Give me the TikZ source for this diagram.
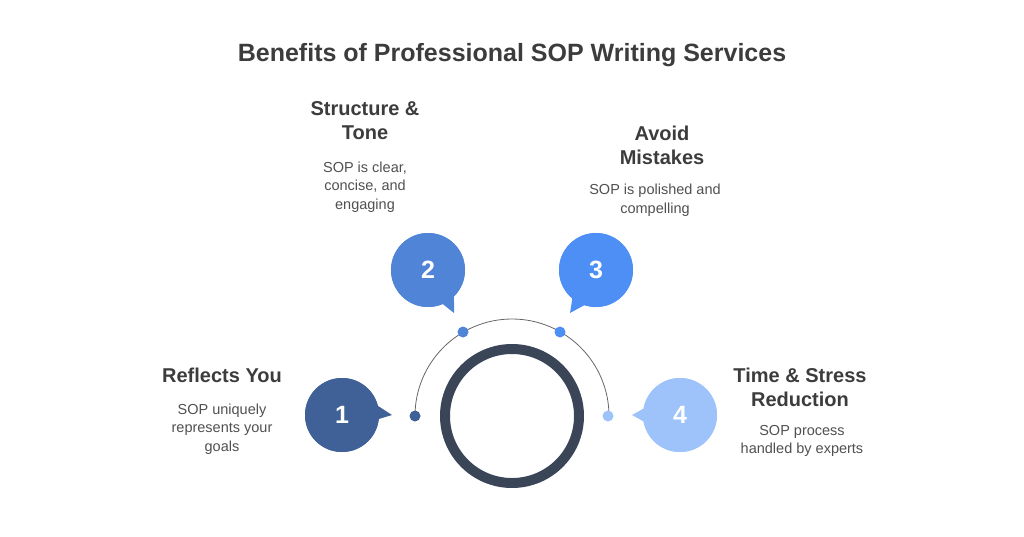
\documentclass[tikz,border=0pt]{standalone}
\usepackage{fontspec}
\setmainfont{Liberation Sans}
\usetikzlibrary{calc}
\definecolor{cone}{HTML}{3F6197}
\definecolor{ctwo}{HTML}{4F84D6}
\definecolor{cthree}{HTML}{4D8FF5}
\definecolor{cfour}{HTML}{9EC3FB}
\definecolor{cring}{HTML}{3A4558}
\definecolor{ctext}{HTML}{3C3C3C}
\newcommand\bubbletail[4]{%
  \fill[#4] ($(#1)+(#2-32:30)$) -- (#3) -- ($(#1)+(#2+12:30)$) -- cycle;}

\begin{document}
\begin{tikzpicture}[x=1pt,y=-1pt,
  bubble/.style = {circle, minimum size=74pt, inner sep=0pt,
     text=white, font=\fontsize{25}{25}\selectfont\bfseries},
  dotnode/.style = {circle, minimum size=11pt, inner sep=0pt},
  heading/.style = {align=center, text=ctext,
     font=\fontsize{20}{24}\selectfont\bfseries},
  body/.style = {align=center, text=ctext!90,
     font=\fontsize{14.5}{18.5}\selectfont}]

\useasboundingbox (0,0) rectangle (1024,536);
\node[text=ctext, font=\fontsize{25}{28}\selectfont\bfseries] (title) at (512,55)
  {Benefits of Professional SOP Writing Services};

% ring and arc
\node[circle, draw=cring, line width=10pt, minimum size=134pt, inner sep=0pt] (ring) at (512,416) {};
\draw[gray!80!black, line width=0.8pt] (415,416) arc[start angle=180, end angle=360, radius=97];

% dots on the arc
\node[dotnode, fill=cone] (d1) at (415,416) {};
\node[dotnode, fill=ctwo] (d2) at (463,332) {};
\node[dotnode, fill=cthree] (d3) at (560,332) {};
\node[dotnode, fill=cfour] (d4) at (608,416) {};

% bubbles with tails
\node[bubble, fill=cone] (b1) at (342,415) {1};
\bubbletail{b1}{0}{392,415}{cone}
\node[bubble, fill=ctwo] (b2) at (428,270) {2};
\bubbletail{b2}{62}{454,313}{ctwo}
\node[bubble, fill=cthree] (b3) at (596,270) {3};
\bubbletail{b3}{126}{570,313}{cthree}
\node[bubble, fill=cfour] (b4) at (680,415) {4};
\bubbletail{b4}{190}{632,415}{cfour}
\node[bubble, fill=cone] at (b1) {1};
\node[bubble, fill=ctwo] at (b2) {2};
\node[bubble, fill=cthree] at (b3) {3};
\node[bubble, fill=cfour] at (b4) {4};

% texts
\node[heading] (h1) at (222,375) {Reflects You};
\node[body] (t1) at (222,429) {SOP uniquely\\represents your\\goals};
\node[heading] (h2) at (365,121) {Structure \&\\Tone};
\node[body] (t2) at (365,187) {SOP is clear,\\concise, and\\engaging};
\node[heading] (h3) at (662,145) {Avoid\\Mistakes};
\node[body] (t3) at (655,200) {SOP is polished and\\compelling};
\node[heading] (h4) at (800,387) {Time \& Stress\\Reduction};
\node[body] (t4) at (802,441) {SOP process\\handled by experts};
\end{tikzpicture}
\end{document}
